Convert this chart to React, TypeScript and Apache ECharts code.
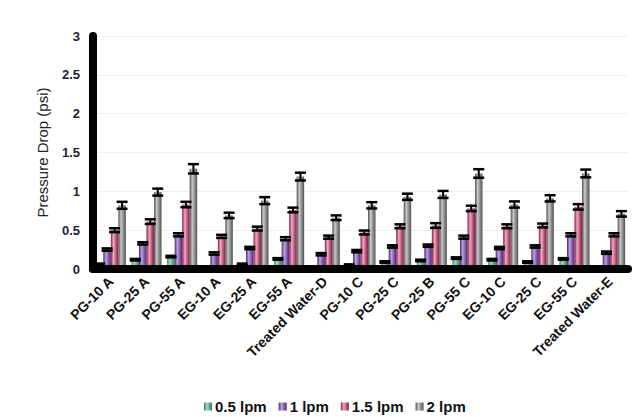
import React, { useEffect, useRef } from "react";
import * as echarts from "echarts";

const categories = [
  "PG-10 A", "PG-25 A", "PG-55 A", "EG-10 A", "EG-25 A", "EG-55 A", "Treated Water-D",
  "PG-10 C", "PG-25 C", "PG-25 B", "PG-55 C", "EG-10 C", "EG-25 C", "EG-55 C", "Treated Water-E",
];
const seriesNames = ["0.5 lpm", "1 lpm", "1.5 lpm", "2 lpm"];
const lpm05 = [0.06, 0.12, 0.16, 0, 0.06, 0.13, 0, 0.05, 0.09, 0.11, 0.14, 0.12, 0.09, 0.13, 0];
const lpm1 = [0.25, 0.33, 0.44, 0.2, 0.27, 0.39, 0.19, 0.23, 0.29, 0.3, 0.41, 0.27, 0.29, 0.44, 0.21];
const lpm15 = [0.5, 0.61, 0.83, 0.42, 0.52, 0.76, 0.41, 0.47, 0.55, 0.56, 0.78, 0.55, 0.56, 0.8, 0.44];
const lpm2 = [0.82, 0.99, 1.29, 0.69, 0.88, 1.19, 0.66, 0.82, 0.93, 0.96, 1.23, 0.83, 0.91, 1.23, 0.71];
const err05 = [0.01, 0.01, 0.01, 0.01, 0.01, 0.01, 0.01, 0.01, 0.01, 0.01, 0.01, 0.01, 0.01, 0.01, 0.01];
const err1 = [0.015, 0.015, 0.02, 0.015, 0.015, 0.02, 0.015, 0.015, 0.015, 0.015, 0.02, 0.015, 0.015, 0.02, 0.015];
const err15 = [0.025, 0.03, 0.035, 0.02, 0.025, 0.03, 0.02, 0.025, 0.025, 0.03, 0.035, 0.025, 0.025, 0.035, 0.02];
const err2 = [0.045, 0.045, 0.06, 0.035, 0.045, 0.05, 0.03, 0.04, 0.04, 0.045, 0.055, 0.04, 0.04, 0.05, 0.035];
const yTicks = { min: 0, max: 3, interval: 0.5 };

const values = [lpm05, lpm1, lpm15, lpm2];
const errors = [err05, err1, err15, err2];
const palette = [
  ["#2f7a5c", "#a9dcc4"],
  ["#4a2478", "#b9a2dc"],
  ["#8c1546", "#eaaac2"],
  ["#505050", "#c8c8c8"],
];

const BAR_W = 7.5;

function grad(edge: string, mid: string) {
  return new echarts.graphic.LinearGradient(0, 0, 1, 0, [
    { offset: 0, color: edge },
    { offset: 0.35, color: mid },
    { offset: 1, color: edge },
  ]);
}

export default function App() {
  const ref = useRef<HTMLDivElement>(null);
  useEffect(() => {
    if (!ref.current) return;
    const chart = echarts.init(ref.current, undefined, { renderer: "svg" });
    const series: any[] = [];
    seriesNames.forEach((name, s) => {
      series.push({
        name,
        type: "bar",
        data: values[s],
        barWidth: BAR_W,
        barGap: "0%",
        itemStyle: { color: grad(palette[s][0], palette[s][1]) },
        z: 2,
      });
    });
    seriesNames.forEach((name, s) => {
      const offset = (s - 1.5) * BAR_W;
      series.push({
        name: "err-" + name,
        type: "custom",
        z: 3,
        data: values[s].map((v, i) => [i, v, errors[s][i]]),
        renderItem: (params: any, api: any) => {
          const i = api.value(0);
          const v = api.value(1);
          const e = api.value(2);
          const x = api.coord([i, v])[0] + offset;
          const yHi = api.coord([i, v + e])[1];
          const yLo = api.coord([i, v - e])[1];
          const hw = 5.5;
          const st = { stroke: "#000", lineWidth: 2.5 };
          return {
            type: "group",
            children: [
              { type: "line", shape: { x1: x, y1: yHi, x2: x, y2: yLo }, style: { stroke: "#000", lineWidth: 2 } },
              { type: "line", shape: { x1: x - hw, y1: yHi, x2: x + hw, y2: yHi }, style: st },
              { type: "line", shape: { x1: x - hw, y1: yLo, x2: x + hw, y2: yLo }, style: st },
            ],
          };
        },
      });
    });

    chart.setOption({
      animation: false,
      backgroundColor: "#ffffff",
      textStyle: { fontFamily: "Liberation Sans, Arial, sans-serif" },
      grid: { left: 93, right: 13, top: 36, bottom: 148 },
      legend: {
        data: seriesNames,
        left: 199,
        top: 394,
        itemWidth: 8,
        itemHeight: 8,
        itemGap: 12,
        icon: "rect",
        textStyle: { fontSize: 15, fontWeight: "bold", color: "#111", padding: [0, 0, 0, -2] },
      },
      xAxis: {
        type: "category",
        data: categories,
        z: 10,
        axisLine: { lineStyle: { color: "#000", width: 8 } },
        axisTick: { show: false },
        axisLabel: {
          rotate: 45,
          interval: 0,
          margin: 10,
          fontSize: 14,
          fontWeight: "bold",
          color: "#111",
        },
      },
      yAxis: {
        type: "value",
        min: yTicks.min,
        max: yTicks.max,
        interval: yTicks.interval,
        name: "Pressure Drop (psi)",
        nameLocation: "middle",
        nameGap: 43,
        nameTextStyle: { fontSize: 15, color: "#222" },
        axisLine: { show: true, lineStyle: { color: "#000", width: 8 } },
        axisTick: { show: false },
        axisLabel: { fontSize: 13, fontWeight: "bold", color: "#1a2233", margin: 13 },
        splitLine: { lineStyle: { color: "#eeeeee", width: 1 } },
      },
      series,
    });
    return () => chart.dispose();
  }, []);
  return (
    <div
      ref={ref}
      style={{ position: "fixed", left: 0, top: 0, width: 641, height: 417, background: "#fff" }}
    />
  );
}
